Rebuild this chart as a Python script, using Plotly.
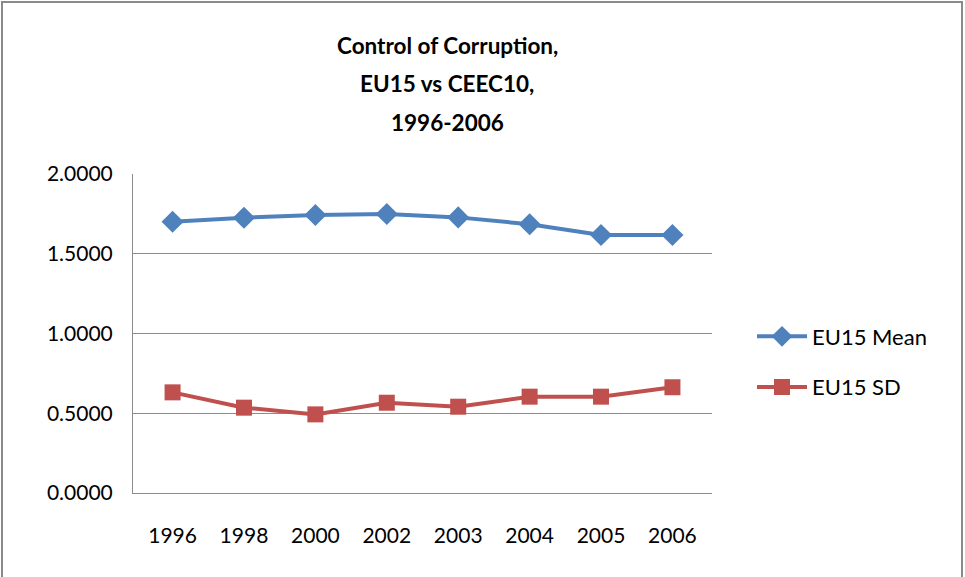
import plotly.graph_objects as go

# Control of Corruption indicator, EU15 mean and standard deviation
years = ["1996", "1998", "2000", "2002", "2003", "2004", "2005", "2006"]
eu15_mean = [1.701, 1.726, 1.743, 1.749, 1.728, 1.685, 1.618, 1.618]
eu15_sd = [0.631, 0.535, 0.493, 0.566, 0.541, 0.604, 0.604, 0.663]
y_ticks = [0.0, 0.5, 1.0, 1.5, 2.0]

title_lines = ["Control of Corruption,", "EU15 vs CEEC10,", "1996-2006"]

FONT = "Lato"
GRID = "#8c8c8c"

fig = go.Figure()
fig.add_trace(go.Scatter(
    x=years, y=eu15_mean, name="EU15 Mean", mode="lines+markers",
    line=dict(color="#4F81BD", width=4),
    marker=dict(symbol="diamond", size=17, color="#4F81BD"),
    legendgroup="mean",
))
fig.add_trace(go.Scatter(
    x=years, y=eu15_sd, name="EU15 SD", mode="lines+markers",
    line=dict(color="#C0504D", width=4),
    marker=dict(symbol="square", size=16, color="#C0504D"),
    legendgroup="sd",
))

L, R, T, B = 133, 253, 174, 84
W, H = 965, 577
pw, ph = W - L - R, H - T - B

def px_x(px):
    return (px - L) / pw

def px_y(py):
    return (H - B - py) / ph

annotations = []
for i, line in enumerate(title_lines):
    annotations.append(dict(
        text=f"<b>{line}</b>", x=px_x(447), y=px_y(45 + 38.5 * i),
        xref="paper", yref="paper", showarrow=False,
        xanchor="center", yanchor="middle",
        font=dict(family=FONT, size=22.5, color="#000000"),
    ))

fig.update_layout(
    width=W, height=H,
    margin=dict(l=L, r=R, t=T, b=B),
    paper_bgcolor="white", plot_bgcolor="white",
    font=dict(family=FONT, size=21, color="#000000"),
    annotations=annotations,
    showlegend=True,
    legend=dict(
        x=px_x(752), y=px_y(362), xanchor="left", yanchor="middle",
        font=dict(family=FONT, size=22, color="#000000"),
        traceorder="grouped", tracegroupgap=19,
        itemwidth=50, bgcolor="rgba(0,0,0,0)",
    ),
    shapes=[dict(
        type="rect", xref="paper", yref="paper",
        x0=px_x(2), x1=px_x(962), y0=px_y(578), y1=px_y(2),
        line=dict(color="#8a8a8a", width=2), fillcolor="rgba(0,0,0,0)",
        layer="below",
    )],
)

fig.update_xaxes(
    type="category", showgrid=False, showline=True, linecolor=GRID,
    linewidth=1, ticks="", ticklen=0, tickfont=dict(size=21),
    mirror=False, zeroline=False, ticklabelstandoff=24,
)
fig.update_yaxes(
    range=[0, 2], tickvals=y_ticks, tickformat=".4f",
    showgrid=True, gridcolor=GRID, gridwidth=1,
    showline=True, linecolor=GRID, linewidth=1,
    zeroline=False, ticks="", tickfont=dict(size=21), ticklabelstandoff=15,
)

fig.write_html("out.html")
